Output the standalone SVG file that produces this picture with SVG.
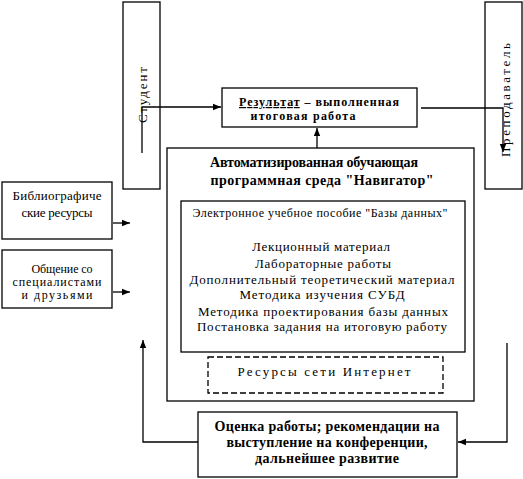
<svg xmlns="http://www.w3.org/2000/svg" width="523" height="479" viewBox="0 0 523 479">
<style>
.box{fill:#fff;stroke:#000;stroke-width:1.3}
.dash{fill:none;stroke:#000;stroke-width:1.3;stroke-dasharray:6,3}
.ln{fill:none;stroke:#000;stroke-width:1.3}
.t{font-family:"Liberation Serif","Times New Roman",serif;font-size:13px;fill:#000;text-anchor:middle}
.b{font-family:"Liberation Serif","Times New Roman",serif;font-size:14px;font-weight:bold;fill:#000;text-anchor:middle}
.bs{font-family:"Liberation Serif","Times New Roman",serif;font-size:12px;font-weight:bold;fill:#000;text-anchor:middle}
.s{font-family:"Liberation Serif","Times New Roman",serif;font-size:12px;fill:#000;text-anchor:middle}
</style>
<defs>
<marker id="ah" viewBox="0 0 10 10" refX="10" refY="5" markerWidth="8" markerHeight="8" markerUnits="userSpaceOnUse" orient="auto">
<path d="M0,1 L10,5 L0,9 z" fill="#000"/>
</marker>
</defs>
<g id="student">
<rect class="box" x="123" y="2" width="37" height="187"/>
<text class="t" transform="translate(147,95) rotate(-90)" textLength="56" lengthAdjust="spacing">Студент</text>
</g>
<g id="teacher">
<rect class="box" x="485" y="2" width="37" height="187"/>
<text class="t" transform="translate(510,100) rotate(-90)" textLength="114" lengthAdjust="spacing">Преподаватель</text>
</g>
<g id="result">
<rect class="box" x="222" y="88" width="195" height="39"/>
<text class="bs" x="319" y="106" textLength="160" lengthAdjust="spacing"><tspan text-decoration="underline">Результат</tspan> – выполненная</text>
<text class="bs" x="303" y="120" textLength="105" lengthAdjust="spacing">итоговая работа</text>
</g>
<g id="environment">
<rect class="box" x="167" y="148" width="307" height="253"/>
<text class="b" x="314" y="167" textLength="208" lengthAdjust="spacing">Автоматизированная обучающая</text>
<text class="b" x="322" y="185" textLength="223" lengthAdjust="spacing">программная среда "Навигатор"</text>
</g>
<g id="textbook">
<rect class="box" x="181" y="201" width="284" height="151"/>
<text class="s" x="320" y="217" textLength="255" lengthAdjust="spacing">Электронное учебное пособие "Базы данных"</text>
<text class="t" x="321" y="251" textLength="138" lengthAdjust="spacing">Лекционный материал</text>
<text class="t" x="323" y="268" textLength="136" lengthAdjust="spacing">Лабораторные работы</text>
<text class="t" x="322" y="284" textLength="265" lengthAdjust="spacing">Дополнительный теоретический материал</text>
<text class="t" x="322" y="299" textLength="165" lengthAdjust="spacing">Методика изучения СУБД</text>
<text class="t" x="323" y="316" textLength="250" lengthAdjust="spacing">Методика проектирования базы данных</text>
<text class="t" x="322" y="331" textLength="250" lengthAdjust="spacing">Постановка задания на итоговую работу</text>
</g>
<g id="internet">
<rect class="dash" x="208" y="357" width="235" height="36"/>
<text class="t" x="324" y="376" textLength="173" lengthAdjust="spacing">Ресурсы сети Интернет</text>
</g>
<g id="biblio">
<rect class="box" x="2" y="182" width="110" height="57"/>
<text class="t" x="57" y="200" textLength="89" lengthAdjust="spacing">Библиографиче</text>
<text class="t" x="57" y="217" textLength="71" lengthAdjust="spacing">ские ресурсы</text>
</g>
<g id="communication">
<rect class="box" x="2" y="250" width="110" height="58"/>
<text class="s" x="62" y="273" textLength="61" lengthAdjust="spacing">Общение со</text>
<text class="s" x="57" y="286" textLength="89" lengthAdjust="spacing">специалистами</text>
<text class="s" x="57" y="299" textLength="71" lengthAdjust="spacing">и друзьями</text>
</g>
<g id="evaluation">
<rect class="box" x="198" y="412" width="259" height="65"/>
<text class="b" x="327" y="431" textLength="225" lengthAdjust="spacing">Оценка работы; рекомендации на</text>
<text class="b" x="327" y="447" textLength="201" lengthAdjust="spacing">выступление на конференции,</text>
<text class="b" x="327" y="463" textLength="144" lengthAdjust="spacing">дальнейшее развитие</text>
</g>
<g id="connectors">
<path class="ln" d="M142,153 L142,107 L221,107" marker-end="url(#ah)"/>
<path class="ln" d="M421,108 L503,108 L503,152" marker-end="url(#ah)"/>
<path class="ln" d="M317,148 L317,128" marker-end="url(#ah)"/>
<path class="ln" d="M113,223 L130,223" marker-end="url(#ah)"/>
<path class="ln" d="M113,292 L130,292" marker-end="url(#ah)"/>
<path class="ln" d="M198,442 L143,442 L143,340" marker-end="url(#ah)"/>
<path class="ln" d="M507,343 L507,442 L458,442" marker-end="url(#ah)"/>
</g>
</svg>
